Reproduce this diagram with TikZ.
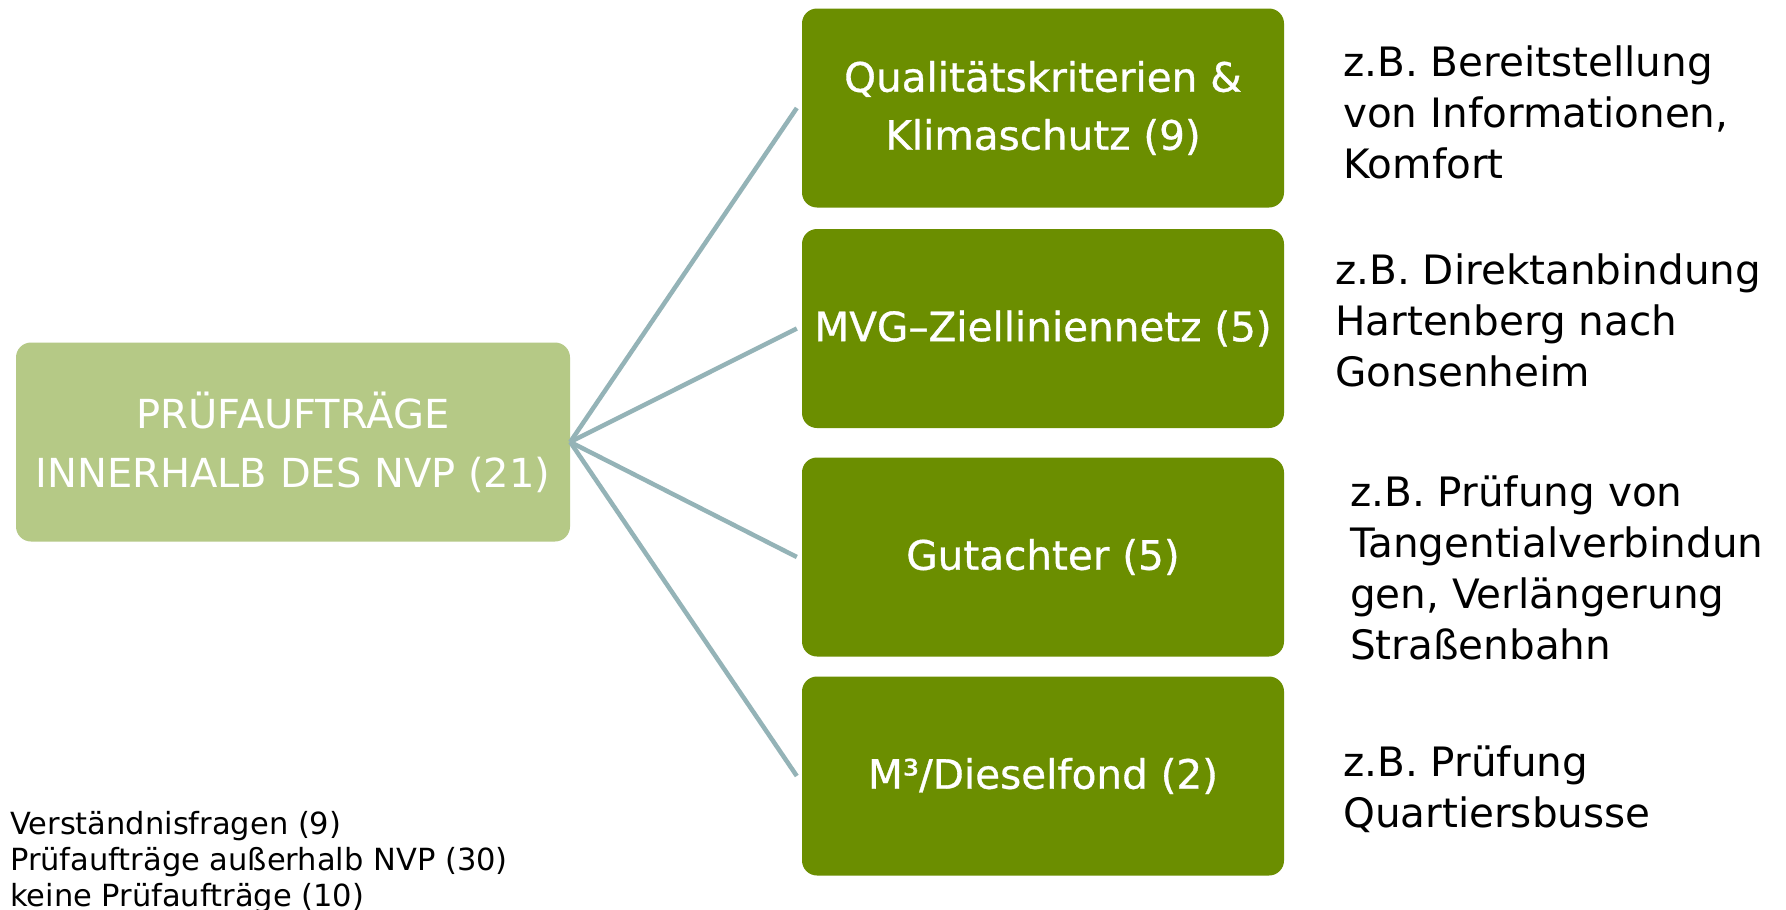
\documentclass[tikz,border=0pt]{standalone}
\usepackage{fontspec}
\setmainfont{DejaVu Sans}
\newfontfamily\boxfont[FakeBold=0.8]{DejaVu Sans}
\definecolor{boxdark}{RGB}{107,142,0}
\definecolor{boxlight}{RGB}{181,201,134}
\definecolor{linkcol}{RGB}{148,179,183}
\tikzset{
  darkbox/.style={fill=boxdark, text=white, rounded corners=15pt, inner sep=0pt,
    minimum width=482pt, minimum height=199pt, align=center,
    font=\boxfont\fontsize{40.5}{58}\selectfont},
  lightbox/.style={fill=boxlight, text=white, rounded corners=15pt, inner sep=0pt,
    minimum width=554pt, minimum height=199pt, align=center,
    font=\fontsize{40}{59}\selectfont},
  note/.style={anchor=north west, inner sep=0pt, align=left, text=black,
    font=\fontsize{40.5}{51}\selectfont},
  smallnote/.style={anchor=north west, inner sep=0pt, align=left, text=black,
    font=\fontsize{30.5}{36}\selectfont},
  conn/.style={draw=linkcol, line width=4.5pt}
}
\begin{document}
\begin{tikzpicture}[x=1pt,y=-1pt]
\useasboundingbox[fill=white] (0,0) rectangle (1786,910);
\node[lightbox] (main) at (293,442) {PRÜFAUFTRÄGE\\INNERHALB DES NVP (21)};
\node[darkbox] (q1) at (1043,108) {Qualitätskriterien \&\\Klimaschutz (9)};
\node[darkbox] (q2) at (1043,328.5) {MVG–Zielliniennetz (5)};
\node[darkbox] (q3) at (1043,557) {Gutachter (5)};
\node[darkbox] (q4) at (1043,776) {M³/Dieselfond (2)};
\draw[conn] (main.east) -- ([xshift=-5pt]q1.west);
\draw[conn] (main.east) -- ([xshift=-5pt]q2.west);
\draw[conn] (main.east) -- ([xshift=-5pt]q3.west);
\draw[conn] (main.east) -- ([xshift=-5pt]q4.west);
\node[note] (n1) at (1343,46) {z.B. Bereitstellung\\von Informationen,\\Komfort};
\node[note] (n2) at (1335,254) {z.B. Direktanbindung\\Hartenberg nach\\Gonsenheim};
\node[note] (n3) at (1350,476) {z.B. Prüfung von\\Tangentialverbindun\\gen, Verlängerung\\Straßenbahn};
\node[note] (n4) at (1343,746) {z.B. Prüfung\\Quartiersbusse};
\node[smallnote] (rest) at (10,811) {Verständnisfragen (9)\\Prüfaufträge außerhalb NVP (30)\\keine Prüfaufträge (10)};
\end{tikzpicture}
\end{document}
